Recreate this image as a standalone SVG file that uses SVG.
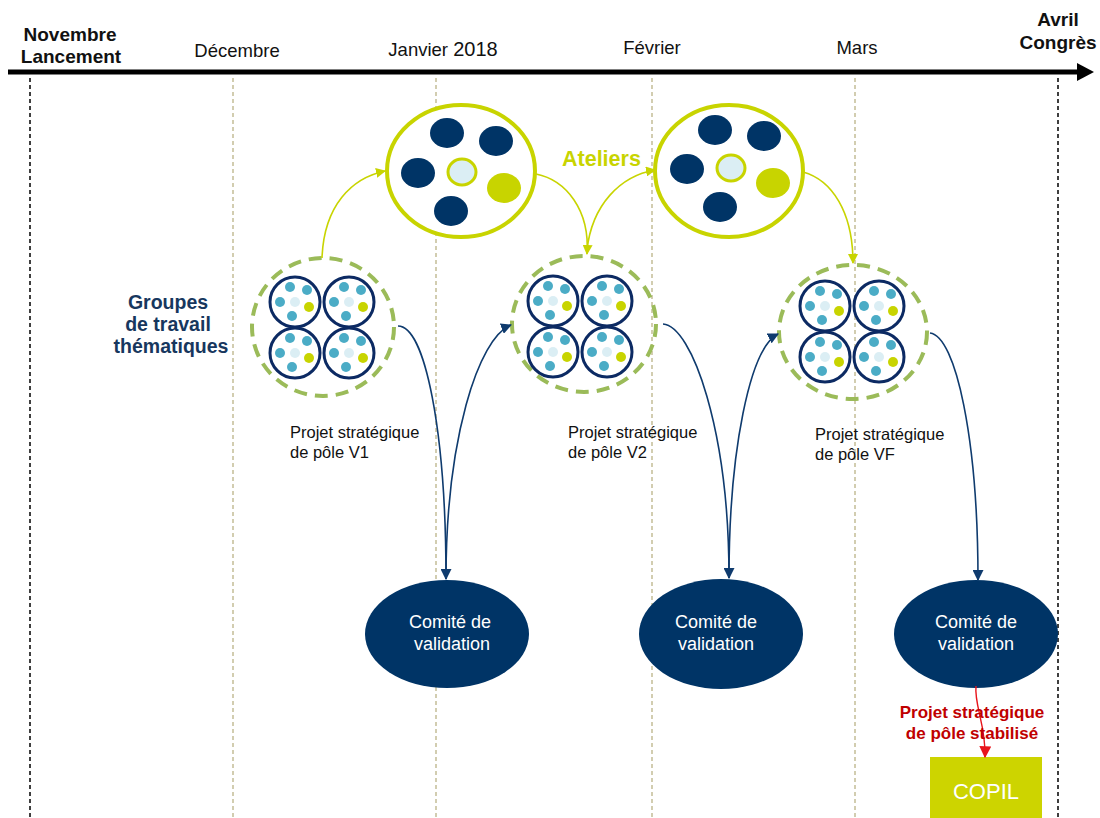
<svg xmlns="http://www.w3.org/2000/svg" width="1100" height="818" viewBox="0 0 1100 818">
<style>
text{font-family:"Liberation Sans",Arial,sans-serif}
.mon{font-size:18.5px;fill:#111}
.bold{font-size:19px;font-weight:bold;fill:#111}
.vtan{stroke:#c4bd97;stroke-width:1.5;stroke-dasharray:4 3;fill:none}
.vblk{stroke:#000;stroke-width:1.5;stroke-dasharray:4 3;fill:none}
.atel{fill:#fff;stroke:#c8d400;stroke-width:4}
.dk{fill:#003466}
.yl{fill:#c8d400}
.lt{fill:#dbeef4;stroke:#c8d400;stroke-width:3}
.grp{fill:none;stroke:#9bbb59;stroke-width:4;stroke-dasharray:13 8}
.sub{fill:#fff;stroke:#0c2a63;stroke-width:3}
.cy{fill:#4bacc6}
.cl{fill:#dbeef4}
.cyl{fill:#c8d400}
.lbl{font-size:16.5px;fill:#111}
.com{fill:#003466}
.comt{font-size:18px;fill:#fff;text-anchor:middle}
.ya{fill:none;stroke:#c8d400;stroke-width:1.6}
.na{fill:none;stroke:#0f3b6e;stroke-width:1.6}
</style>
<defs>
<marker id="my" viewBox="0 0 10 10" refX="9" refY="5" markerWidth="10" markerHeight="10" markerUnits="userSpaceOnUse" orient="auto"><path d="M0,0 L10,5 L0,10 z" fill="#c8d400"/></marker>
<marker id="mn" viewBox="0 0 10 10" refX="9" refY="5" markerWidth="11" markerHeight="11" markerUnits="userSpaceOnUse" orient="auto"><path d="M0,0 L10,5 L0,10 z" fill="#0f3b6e"/></marker>
<marker id="mr" viewBox="0 0 10 10" refX="9" refY="5" markerWidth="12" markerHeight="12" markerUnits="userSpaceOnUse" orient="auto"><path d="M0,0 L10,5 L0,10 z" fill="#e8141b"/></marker>
<g id="sub">
<circle r="25" class="sub"/>
<circle cx="-5" cy="-15" r="5" class="cy"/>
<circle cx="12" cy="-12" r="5" class="cy"/>
<circle cx="-15" cy="0" r="5" class="cy"/>
<circle cx="0" cy="0" r="5" class="cl"/>
<circle cx="14" cy="5" r="5" class="cyl"/>
<circle cx="-3" cy="14" r="5" class="cy"/>
</g>
<g id="quad">
<use href="#sub" x="-27" y="-25"/>
<use href="#sub" x="27" y="-25"/>
<use href="#sub" x="-27" y="26"/>
<use href="#sub" x="27" y="26"/>
</g>
</defs>

<g id="timeline">
<line x1="30" y1="78" x2="30" y2="818" class="vblk"/>
<line x1="233" y1="78" x2="233" y2="818" class="vtan"/>
<line x1="436" y1="78" x2="436" y2="818" class="vtan"/>
<line x1="652" y1="78" x2="652" y2="818" class="vtan"/>
<line x1="855" y1="78" x2="855" y2="818" class="vtan"/>
<line x1="1058" y1="78" x2="1058" y2="818" class="vblk"/>
<line x1="8" y1="72" x2="1080" y2="72" stroke="#000" stroke-width="5"/>
<path d="M1077,63 L1094,72 L1077,81 z" fill="#000"/>
<text x="70" y="41" class="bold" text-anchor="middle">Novembre</text>
<text x="71" y="63" class="bold" text-anchor="middle">Lancement</text>
<text x="237" y="57" class="mon" text-anchor="middle">Décembre</text>
<text x="443" y="56" class="mon" text-anchor="middle">Janvier <tspan font-size="20">2018</tspan></text>
<text x="652" y="54" class="mon" text-anchor="middle">Février</text>
<text x="857" y="54" class="mon" text-anchor="middle">Mars</text>
<text x="1058" y="26" class="bold" text-anchor="middle">Avril</text>
<text x="1058" y="49" class="bold" text-anchor="middle">Congrès</text>
</g>

<g id="atelier1">
<ellipse cx="461" cy="171" rx="74" ry="66" class="atel"/>
<ellipse cx="447" cy="133" rx="17" ry="15" class="dk"/>
<ellipse cx="496" cy="141" rx="17" ry="15" class="dk"/>
<ellipse cx="418" cy="173" rx="17" ry="15" class="dk"/>
<ellipse cx="462" cy="172" rx="14" ry="13" class="lt"/>
<ellipse cx="504" cy="188" rx="17" ry="15" class="yl"/>
<ellipse cx="451" cy="211" rx="17" ry="15" class="dk"/>
</g>
<g id="atelier2">
<ellipse cx="729" cy="171" rx="74" ry="66" class="atel"/>
<ellipse cx="715" cy="130" rx="17" ry="15" class="dk"/>
<ellipse cx="764" cy="136" rx="17" ry="15" class="dk"/>
<ellipse cx="687" cy="169" rx="17" ry="15" class="dk"/>
<ellipse cx="731" cy="168" rx="14" ry="13" class="lt"/>
<ellipse cx="773" cy="183" rx="17" ry="15" class="yl"/>
<ellipse cx="720" cy="207" rx="17" ry="15" class="dk"/>
</g>
<g id="ateliers-label">
<text x="562" y="166" font-size="21.5" font-weight="bold" fill="#c8d400">Ateliers</text>
</g>

<g id="groupe1">
<ellipse cx="323" cy="327" rx="71" ry="69" class="grp"/>
<use href="#quad" x="322" y="327"/>
</g>
<g id="groupe2">
<ellipse cx="584" cy="324" rx="72" ry="68" class="grp"/>
<use href="#quad" x="580" y="326"/>
</g>
<g id="groupe3">
<ellipse cx="853" cy="332" rx="74" ry="67" class="grp"/>
<use href="#quad" x="852" y="331"/>
</g>

<g id="groupes-label" font-size="19.5" font-weight="bold" fill="#17375e" text-anchor="middle">
<text x="168" y="309">Groupes</text>
<text x="168" y="331">de travail</text>
<text x="171" y="353">thématiques</text>
</g>

<g id="labels-projet">
<text x="290" y="438" class="lbl">Projet stratégique</text>
<text x="290" y="458" class="lbl">de pôle V1</text>
<text x="568" y="438" class="lbl">Projet stratégique</text>
<text x="568" y="458" class="lbl">de pôle V2</text>
<text x="815" y="440" class="lbl">Projet stratégique</text>
<text x="815" y="460" class="lbl">de pôle VF</text>
</g>

<g id="comite1">
<ellipse cx="447" cy="634" rx="82" ry="54" class="com"/>
<text x="450" y="628" class="comt">Comité de</text>
<text x="452" y="650" class="comt">validation</text>
</g>
<g id="comite2">
<ellipse cx="721" cy="634" rx="82" ry="55" class="com"/>
<text x="716" y="628" class="comt">Comité de</text>
<text x="716" y="650" class="comt">validation</text>
</g>
<g id="comite3">
<ellipse cx="976" cy="634" rx="82" ry="54" class="com"/>
<text x="976" y="628" class="comt">Comité de</text>
<text x="976" y="650" class="comt">validation</text>
</g>

<g id="copil">
<rect x="930" y="757" width="112" height="61" fill="#cdd400"/>
<text x="986" y="799" font-size="22" fill="#fff" text-anchor="middle">COPIL</text>
</g>

<g id="connectors">
<path d="M322,258 C324,205 352,178 385,171" class="ya" marker-end="url(#my)"/>
<path d="M536,174 C566,180 590,210 587,254" class="ya" marker-end="url(#my)"/>
<path d="M587,250 C592,205 620,176 655,170" class="ya" marker-end="url(#my)"/>
<path d="M803,172 C832,180 853,212 853,263" class="ya" marker-end="url(#my)"/>
<path d="M398,326 C425,326 446,430 446,579" class="na" marker-end="url(#mn)"/>
<path d="M446,579 C446,440 478,338 511,325" class="na" marker-end="url(#mn)"/>
<path d="M663,324 C692,326 729,430 729,578" class="na" marker-end="url(#mn)"/>
<path d="M729,578 C729,450 750,348 778,334" class="na" marker-end="url(#mn)"/>
<path d="M930,333 C956,336 978,440 978,580" class="na" marker-end="url(#mn)"/>
<path d="M976,686 C974,705 986,725 985,757" fill="none" stroke="#e8141b" stroke-width="1.4" marker-end="url(#mr)"/>
</g>
<g id="stabilise-label" font-size="17" font-weight="bold" fill="#c00000" text-anchor="middle">
<text x="972" y="718">Projet stratégique</text>
<text x="972" y="739">de pôle stabilisé</text>
</g>
</svg>
